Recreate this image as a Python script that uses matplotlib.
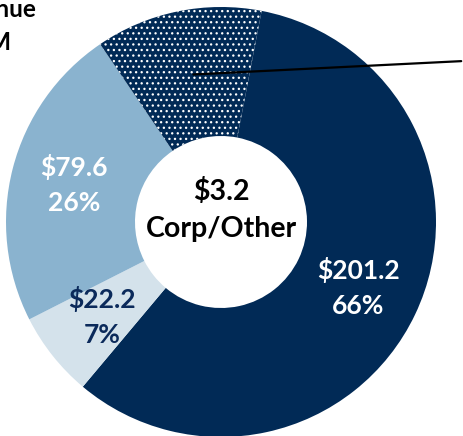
import numpy as np
import matplotlib
matplotlib.use("Agg")
import matplotlib.pyplot as plt

# ---- data ----
segments = ["Segment A", "Segment B", "Segment C", "Segment D"]
values = [201.2, 22.2, 79.6, 43.4]
value_labels = ["$201.2", "$22.2", "$79.6", ""]
pct_labels = ["66%", "7%", "26%", ""]
center_value = "$3.2"
center_name = "Corp/Other"
title_lines = ["Revenue", "$M"]

# ---- style ----
colors = ["#012A56", "#D4E2EB", "#8AB3CF", "#012A56"]
text_colors = ["white", "#0B2A5B", "white", None]
FONT = "Lato"

plt.rcParams["hatch.color"] = "white"
plt.rcParams["hatch.linewidth"] = 0.9

W, H, DPI = 464, 436, 100
fig = plt.figure(figsize=(W / DPI, H / DPI), dpi=DPI)
ax = fig.add_axes([0, 0, 1, 1])

cx, cy, R = 221, 222, 215  # pixel centre and radius
ax.pie(values, colors=colors, startangle=79.1, counterclock=False,
       radius=1.0, wedgeprops=dict(width=0.6, linewidth=0))
wedges = ax.patches
wedges[3].set_hatch("...")
wedges[3].set_edgecolor("white")
wedges[3].set_linewidth(0)

ax.set_xlim(-cx / R, (W - cx) / R)
ax.set_ylim(-(H - cy) / R, cy / R)
ax.set_aspect("auto")
ax.axis("off")

for w, v, p, tc in zip(wedges, value_labels, pct_labels, text_colors):
    if not v:
        continue
    ang = np.deg2rad((w.theta1 + w.theta2) / 2)
    r = 0.707
    ax.text(r * np.cos(ang), r * np.sin(ang), v + "\n" + p, ha="center", va="center",
            color=tc, fontsize=19, fontweight="bold", family=FONT, linespacing=1.55)

ax.text(0, 0.055, center_value + "\n" + center_name, ha="center", va="center",
        color="black", fontsize=20.5, fontweight="bold", family=FONT, linespacing=1.5)

# leader line from the hatched wedge toward an off-chart label
wd = wedges[3]
ang = np.deg2rad((wd.theta1 + wd.theta2) / 2)
ax.annotate("", xy=(0.70 * np.cos(ang), 0.70 * np.sin(ang)),
            xytext=(1.0, 1 - 61 / H), textcoords="axes fraction",
            arrowprops=dict(arrowstyle="-", color="black", lw=1.6))

fig.text(36 / W, 1 - 17 / H, title_lines[0], ha="right", va="baseline",
         fontsize=17.5, fontweight="bold", family=FONT)
fig.text(11 / W, 1 - 50 / H, title_lines[1], ha="right", va="baseline",
         fontsize=17.5, fontweight="bold", family=FONT)

fig.savefig("out.png", dpi=DPI)
